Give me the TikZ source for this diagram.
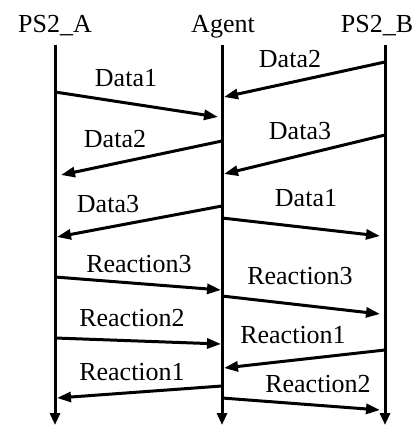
\documentclass[tikz,border=0pt]{standalone}
\usepackage{fontspec}
\setmainfont{Liberation Serif}
\usetikzlibrary{arrows.meta}
\begin{document}
\begin{tikzpicture}[x=1pt,y=-1pt,
  lbl/.style={anchor=base,inner sep=0pt,font=\fontsize{26}{30}\selectfont},
  life/.style={line width=3pt,-{Triangle[length=12pt,width=10pt]}},
  msg/.style={line width=3pt,-{Triangle[length=14pt,width=10pt]}}]
\useasboundingbox (0,0) rectangle (418,425);
% headers
\node[lbl] (hA) at (55,33) {PS2\_A};
\node[lbl] (hG) at (223,33) {Agent};
\node[lbl] (hB) at (377,33) {PS2\_B};
% lifelines
\coordinate (At) at (55,45); \coordinate (Ab) at (55,425);
\coordinate (Gt) at (222,45); \coordinate (Gb) at (222,425);
\coordinate (Bt) at (385,45); \coordinate (Bb) at (385,425);
\draw[life] (At) -- (Ab);
\draw[life] (Gt) -- (Gb);
\draw[life] (Bt) -- (Bb);
% messages
\coordinate (m1s) at (55,92);  \coordinate (m1e) at (218,117);
\coordinate (m2s) at (385,62); \coordinate (m2e) at (224,97);
\coordinate (m3s) at (222,141); \coordinate (m3e) at (61,175);
\coordinate (m4s) at (385,135); \coordinate (m4e) at (224,174);
\coordinate (m5s) at (222,206); \coordinate (m5e) at (57,237);
\coordinate (m6s) at (222,218); \coordinate (m6e) at (380,236);
\coordinate (m7s) at (55,277); \coordinate (m7e) at (221,290);
\coordinate (m8s) at (222,296); \coordinate (m8e) at (380,314);
\coordinate (m9s) at (55,338); \coordinate (m9e) at (221,344);
\coordinate (m10s) at (385,350); \coordinate (m10e) at (224,368);
\coordinate (m11s) at (222,386); \coordinate (m11e) at (57,398);
\coordinate (m12s) at (222,398); \coordinate (m12e) at (380,410);
\foreach \i in {1,...,12} {\draw[msg] (m\i s) -- (m\i e);}
% labels
\node[lbl] (l1) at (126,87) {Data1};
\node[lbl] (l2) at (290,68) {Data2};
\node[lbl] (l3) at (115,147) {Data2};
\node[lbl] (l4) at (300,139) {Data3};
\node[lbl] (l5) at (108,212) {Data3};
\node[lbl] (l6) at (306,206) {Data1};
\node[lbl] (l7) at (139,272) {Reaction3};
\node[lbl] (l8) at (300,284) {Reaction3};
\node[lbl] (l9) at (132,326) {Reaction2};
\node[lbl] (l10) at (293,343) {Reaction1};
\node[lbl] (l11) at (132,380) {Reaction1};
\node[lbl] (l12) at (318,392) {Reaction2};
\end{tikzpicture}
\end{document}
